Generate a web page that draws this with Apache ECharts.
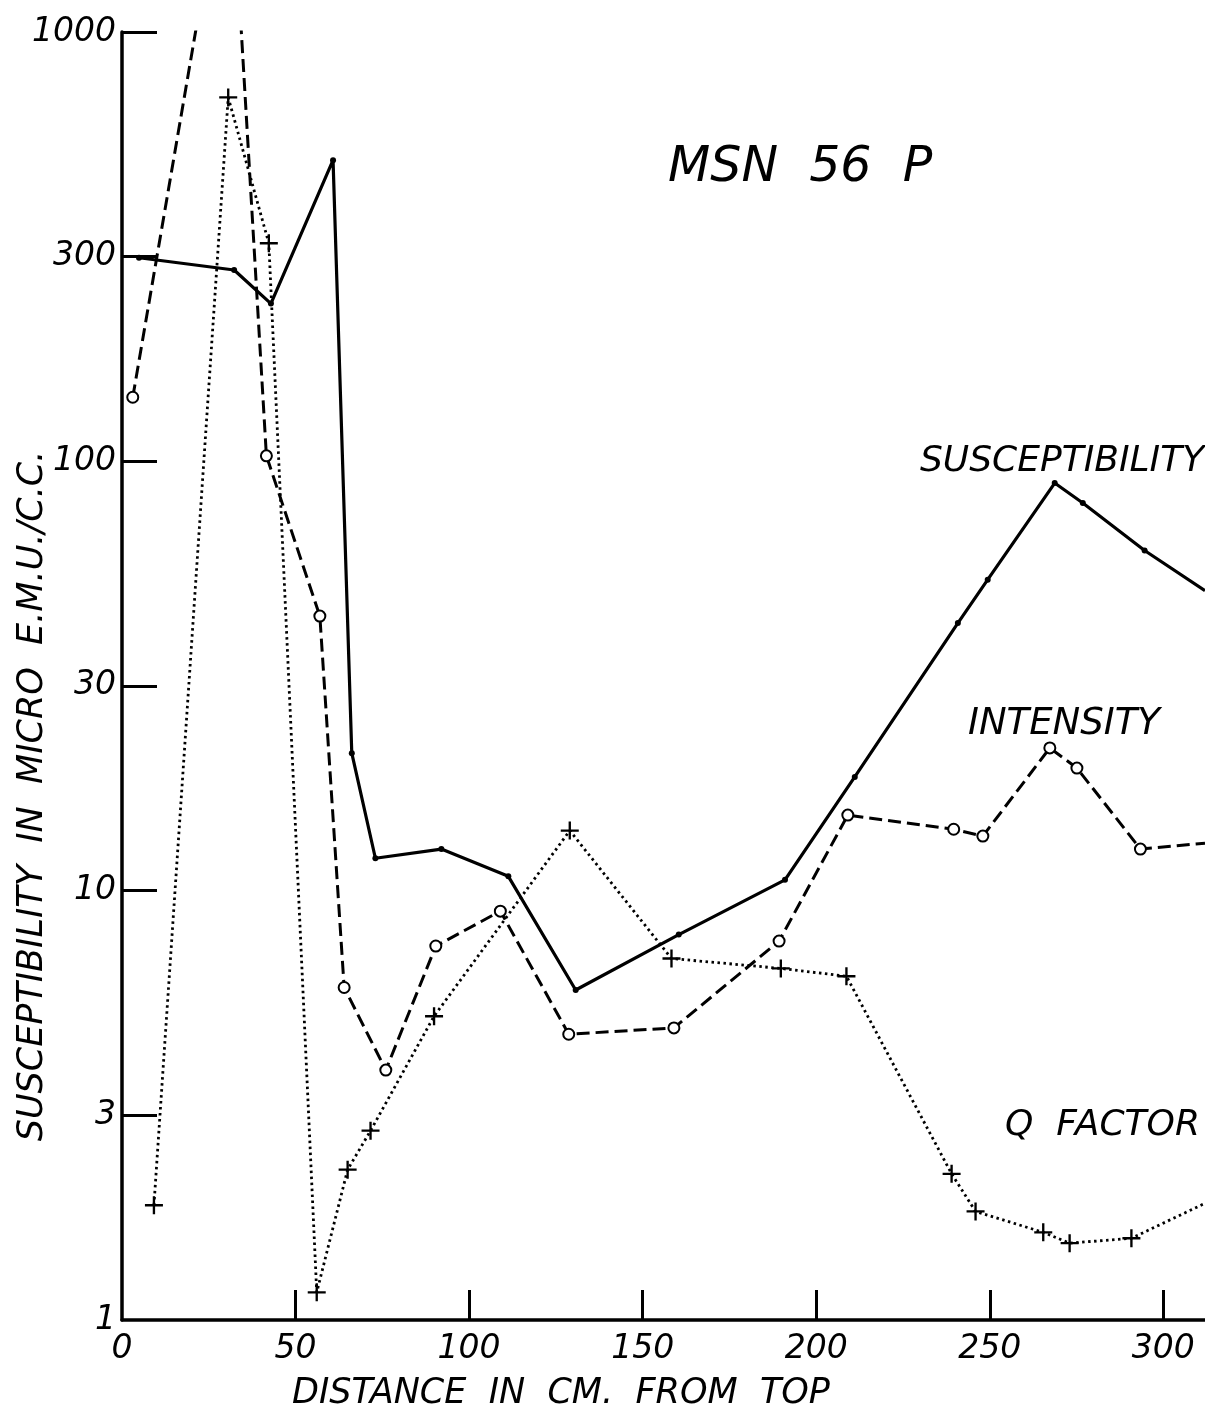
<!DOCTYPE html>
<html>
<head>
<meta charset="utf-8">
<title>MSN 56 P</title>
<script src="https://cdn.jsdelivr.net/npm/echarts@6/dist/echarts.min.js"></script>
<style>
  html, body { margin: 0; padding: 0; background: #fff; }
  #chart { width: 1205px; height: 1418px; }
</style>
</head>
<body>
<div id="chart"></div>
<script>
// Core MSN 56 P: magnetic properties against depth (cm from top of core).
// Last entry of each profile is where the curve leaves the right edge.

const suscDepth = [4.9, 32.3, 42.9, 60.8, 66.2, 73.0, 92.0, 111.3, 130.7, 160.4, 191.0, 211.1, 240.8, 249.4, 268.7, 276.8, 294.6, 312];
const suscValue = [298, 279, 233, 503, 20.9, 11.9, 12.5, 10.8, 5.87, 7.9, 10.6, 18.4, 42, 53, 89, 80, 62, 50];

const intDepth = [3.1, 31.0, 41.6, 57.0, 64.0, 76.0, 90.4, 109.0, 128.7, 159.0, 189.3, 209.1, 239.6, 248.0, 267.3, 275.1, 293.4, 312];
const intValue = [141, 2900, 103, 43.6, 5.95, 3.82, 7.43, 8.96, 4.63, 4.79, 7.63, 15.0, 13.9, 13.4, 21.5, 19.3, 12.5, 12.9];

const qDepth = [9.2, 30.6, 42.3, 56.1, 65.0, 71.6, 89.9, 129.0, 158.3, 189.8, 208.7, 239.0, 245.9, 265.4, 273.0, 290.8, 312];
const qValue = [1.85, 704, 322, 1.16, 2.24, 2.76, 5.10, 13.8, 6.95, 6.59, 6.32, 2.19, 1.79, 1.60, 1.51, 1.55, 1.87];

const xLabelValues = [0, 50, 100, 150, 200, 250, 300];
const xTickValues = [50, 100, 150, 200, 250, 300];
const yLabelValues = [1, 3, 10, 30, 100, 300, 1000];
const yTickValues = [3, 10, 30, 100, 300, 1000];

const seriesNames = ['SUSCEPTIBILITY', 'INTENSITY', 'Q  FACTOR'];
const chartTitle = 'MSN  56  P';
const xAxisTitle = 'DISTANCE  IN  CM.  FROM  TOP';
const yAxisTitle = 'SUSCEPTIBILITY  IN  MICRO  E.M.U./C.C.';

const FONT = "'DejaVu Sans', 'Liberation Sans', sans-serif";
const INK = '#000';

// plus-sign marker made of two filled bars
const PLUS = 'path://M-1,-0.13H1V0.13H-1Z M-0.13,-1H0.13V1H-0.13Z';

function toPoints(depth, value) {
  const last = depth.length - 1;
  return depth.map((d, i) => i === last
    ? { value: [d, value[i]], symbol: 'none' }
    : [d, value[i]]);
}

function textItem(text, x, y, size, align, rotation) {
  return {
    type: 'text', x: x, y: y, rotation: rotation || 0, silent: true,
    style: {
      text: text, fill: INK, fontSize: size, fontStyle: 'italic', fontFamily: FONT,
      align: align, verticalAlign: 'middle'
    }
  };
}

const chart = echarts.init(document.getElementById('chart'), null, { renderer: 'canvas' });

chart.setOption({
  animation: false,
  backgroundColor: '#fff',
  grid: { left: 122, right: 0, top: 32, bottom: 98, containLabel: false },
  xAxis: {
    type: 'value',
    min: 0,
    max: 312,
    splitLine: { show: false },
    axisLine: { show: true, lineStyle: { color: INK, width: 3.5 } },
    axisTick: {
      show: true, inside: true, length: 30,
      customValues: xTickValues,
      lineStyle: { color: INK, width: 3 }
    },
    axisLabel: {
      customValues: xLabelValues,
      color: INK, fontSize: 33, fontStyle: 'italic', fontFamily: FONT,
      margin: 13
    }
  },
  yAxis: {
    type: 'log',
    logBase: 10,
    min: 1,
    max: 1000,
    splitLine: { show: false },
    axisLine: { show: true, lineStyle: { color: INK, width: 3.5 } },
    axisTick: {
      show: true, inside: true, length: 35,
      customValues: yTickValues,
      lineStyle: { color: INK, width: 3 }
    },
    axisLabel: {
      customValues: yLabelValues,
      formatter: v => String(Math.round(v)),
      color: INK, fontSize: 33, fontStyle: 'italic', fontFamily: FONT,
      margin: 6
    }
  },
  series: [
    {
      name: seriesNames[0],
      type: 'line',
      data: toPoints(suscDepth, suscValue),
      clip: true,
      symbol: 'circle',
      symbolSize: 6,
      lineStyle: { color: INK, width: 3.2, type: 'solid' },
      itemStyle: { color: INK, borderWidth: 0 },
      z: 3
    },
    {
      name: seriesNames[1],
      type: 'line',
      data: toPoints(intDepth, intValue),
      clip: true,
      symbol: 'emptyCircle',
      symbolSize: 11,
      lineStyle: { color: INK, width: 3, type: [13, 6] },
      itemStyle: { color: INK, borderColor: INK, borderWidth: 2.5 },
      z: 4
    },
    {
      name: seriesNames[2],
      type: 'line',
      data: toPoints(qDepth, qValue),
      clip: true,
      symbol: PLUS,
      symbolSize: 18,
      lineStyle: { color: INK, width: 2.8, type: [2.5, 3.5] },
      itemStyle: { color: INK, borderWidth: 0 },
      z: 2
    }
  ],
  graphic: [
    textItem(chartTitle, 668, 168, 49, 'left'),
    textItem(seriesNames[0], 920, 462, 36, 'left'),
    textItem(seriesNames[1], 968, 724, 37, 'left'),
    textItem(seriesNames[2], 1005, 1126, 36, 'left'),
    textItem(xAxisTitle, 561, 1394, 35, 'center'),
    textItem(yAxisTitle, 33, 796, 35, 'center', Math.PI / 2)
  ]
});
</script>
</body>
</html>
